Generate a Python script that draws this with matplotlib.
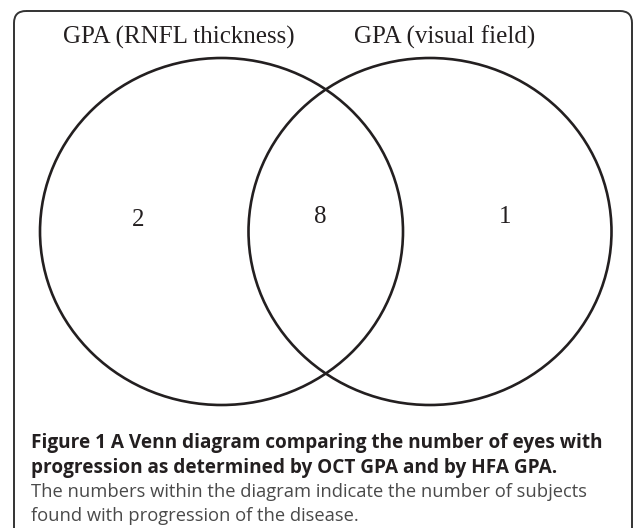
import matplotlib
matplotlib.use("Agg")
import matplotlib.pyplot as plt
from matplotlib.patches import Ellipse, FancyBboxPatch

set_labels = ["GPA (RNFL thickness)", "GPA (visual field)"]
region_counts = ["2", "8", "1"]  # only left, overlap, only right
caption_bold = ["Figure 1 A Venn diagram comparing the number of eyes with",
                "progression as determined by OCT GPA and by HFA GPA."]
caption_plain = ["The numbers within the diagram indicate the number of subjects",
                 "found with progression of the disease."]

W, H = 633, 528
fig = plt.figure(figsize=(W / 100, H / 100), dpi=100)
ax = fig.add_axes([0, 0, 1, 1])
ax.set_xlim(0, W)
ax.set_ylim(H, 0)
ax.axis("off")

ink = "#231f20"
# frame
frame = FancyBboxPatch((14, 11), 618, 540, boxstyle="round,pad=0,rounding_size=12",
                       fill=False, edgecolor="#333333", linewidth=1.4, clip_on=True)
ax.add_patch(frame)

# circles
centers = [(221.5, 231.5), (430, 231.5)]
for c in centers:
    ax.add_patch(Ellipse(c, 363, 347, fill=False, edgecolor=ink, linewidth=1.9))

serif = "Liberation Serif"
label_x = [179, 445]
for lx, t in zip(label_x, set_labels):
    ax.text(lx, 37, t, ha="center", va="center", fontsize=18, family=serif, color=ink)

count_x = [138, 320, 505]
count_y = [220, 217, 217]
for cx, cy, t in zip(count_x, count_y, region_counts):
    ax.text(cx, cy, t, ha="center", va="center", fontsize=18, family=serif, color=ink)

sans = "Open Sans"
ys = [443, 467.5, 492, 516]
for y, t in zip(ys[:2], caption_bold):
    ax.text(31, y, t, ha="left", va="center", fontsize=13.7, family=sans,
            fontweight="bold", color=ink)
for y, t in zip(ys[2:], caption_plain):
    ax.text(31, y, t, ha="left", va="center", fontsize=13.2, family=sans,
            color="#4a4a4a")

fig.savefig("out.png", dpi=100)
